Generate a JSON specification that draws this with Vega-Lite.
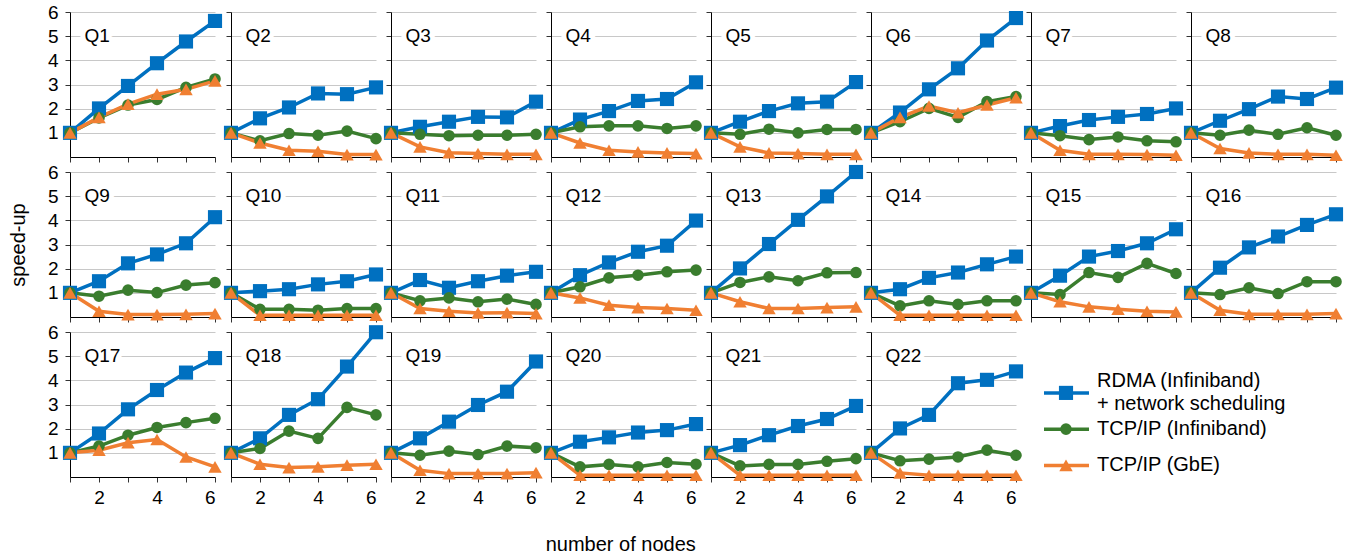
{
"$schema":"https://vega.github.io/schema/vega-lite/v6.json",
"background":"white",
"padding":{"left":8,"top":3,"right":5,"bottom":3},
"config":{"view":{"stroke":null},"font":"Liberation Sans","legend":{"disable":true},
"axis":{"domainColor":"#000","tickColor":"#333","tickSize":5,"labelFontSize":19,"labelColor":"#000","gridColor":"#c8c8c8","titleFontSize":20,"titleFontWeight":"normal","titleColor":"#000","labelPadding":6},
"axisY":{"titlePadding":19,"labelPadding":7}},
"title":{"text":"number of nodes","orient":"bottom","anchor":"middle","fontSize":20,"fontWeight":"normal","offset":28,"dx":-55},
"datasets":{
"leg":[{"s":"RDMA","label":"RDMA (Infiniband)\n+ network scheduling"},{"s":"TCPIB","label":"TCP/IP (Infiniband)"},{"s":"GbE","label":"TCP/IP (GbE)"}],
"d":[
{"q":"Q1","s":"RDMA","n":1,"v":1},{"q":"Q1","s":"RDMA","n":2,"v":2.01},{"q":"Q1","s":"RDMA","n":3,"v":2.94},{"q":"Q1","s":"RDMA","n":4,"v":3.88},{"q":"Q1","s":"RDMA","n":5,"v":4.78},{"q":"Q1","s":"RDMA","n":6,"v":5.63},
{"q":"Q1","s":"TCPIB","n":1,"v":1},{"q":"Q1","s":"TCPIB","n":2,"v":1.62},{"q":"Q1","s":"TCPIB","n":3,"v":2.15},{"q":"Q1","s":"TCPIB","n":4,"v":2.38},{"q":"Q1","s":"TCPIB","n":5,"v":2.88},{"q":"Q1","s":"TCPIB","n":6,"v":3.23},
{"q":"Q1","s":"GbE","n":1,"v":1},{"q":"Q1","s":"GbE","n":2,"v":1.64},{"q":"Q1","s":"GbE","n":3,"v":2.19},{"q":"Q1","s":"GbE","n":4,"v":2.6},{"q":"Q1","s":"GbE","n":5,"v":2.8},{"q":"Q1","s":"GbE","n":6,"v":3.15},
{"q":"Q2","s":"RDMA","n":1,"v":1},{"q":"Q2","s":"RDMA","n":2,"v":1.6},{"q":"Q2","s":"RDMA","n":3,"v":2.05},{"q":"Q2","s":"RDMA","n":4,"v":2.63},{"q":"Q2","s":"RDMA","n":5,"v":2.6},{"q":"Q2","s":"RDMA","n":6,"v":2.88},
{"q":"Q2","s":"TCPIB","n":1,"v":1},{"q":"Q2","s":"TCPIB","n":2,"v":0.67},{"q":"Q2","s":"TCPIB","n":3,"v":0.97},{"q":"Q2","s":"TCPIB","n":4,"v":0.9},{"q":"Q2","s":"TCPIB","n":5,"v":1.07},{"q":"Q2","s":"TCPIB","n":6,"v":0.76},
{"q":"Q2","s":"GbE","n":1,"v":1},{"q":"Q2","s":"GbE","n":2,"v":0.58},{"q":"Q2","s":"GbE","n":3,"v":0.28},{"q":"Q2","s":"GbE","n":4,"v":0.24},{"q":"Q2","s":"GbE","n":5,"v":0.1},{"q":"Q2","s":"GbE","n":6,"v":0.1},
{"q":"Q3","s":"RDMA","n":1,"v":1},{"q":"Q3","s":"RDMA","n":2,"v":1.25},{"q":"Q3","s":"RDMA","n":3,"v":1.46},{"q":"Q3","s":"RDMA","n":4,"v":1.66},{"q":"Q3","s":"RDMA","n":5,"v":1.64},{"q":"Q3","s":"RDMA","n":6,"v":2.29},
{"q":"Q3","s":"TCPIB","n":1,"v":1},{"q":"Q3","s":"TCPIB","n":2,"v":0.94},{"q":"Q3","s":"TCPIB","n":3,"v":0.88},{"q":"Q3","s":"TCPIB","n":4,"v":0.9},{"q":"Q3","s":"TCPIB","n":5,"v":0.9},{"q":"Q3","s":"TCPIB","n":6,"v":0.94},
{"q":"Q3","s":"GbE","n":1,"v":1},{"q":"Q3","s":"GbE","n":2,"v":0.42},{"q":"Q3","s":"GbE","n":3,"v":0.18},{"q":"Q3","s":"GbE","n":4,"v":0.14},{"q":"Q3","s":"GbE","n":5,"v":0.11},{"q":"Q3","s":"GbE","n":6,"v":0.11},
{"q":"Q4","s":"RDMA","n":1,"v":1},{"q":"Q4","s":"RDMA","n":2,"v":1.55},{"q":"Q4","s":"RDMA","n":3,"v":1.9},{"q":"Q4","s":"RDMA","n":4,"v":2.32},{"q":"Q4","s":"RDMA","n":5,"v":2.4},{"q":"Q4","s":"RDMA","n":6,"v":3.09},
{"q":"Q4","s":"TCPIB","n":1,"v":1},{"q":"Q4","s":"TCPIB","n":2,"v":1.25},{"q":"Q4","s":"TCPIB","n":3,"v":1.29},{"q":"Q4","s":"TCPIB","n":4,"v":1.29},{"q":"Q4","s":"TCPIB","n":5,"v":1.18},{"q":"Q4","s":"TCPIB","n":6,"v":1.29},
{"q":"Q4","s":"GbE","n":1,"v":1},{"q":"Q4","s":"GbE","n":2,"v":0.58},{"q":"Q4","s":"GbE","n":3,"v":0.28},{"q":"Q4","s":"GbE","n":4,"v":0.21},{"q":"Q4","s":"GbE","n":5,"v":0.17},{"q":"Q4","s":"GbE","n":6,"v":0.14},
{"q":"Q5","s":"RDMA","n":1,"v":1},{"q":"Q5","s":"RDMA","n":2,"v":1.46},{"q":"Q5","s":"RDMA","n":3,"v":1.9},{"q":"Q5","s":"RDMA","n":4,"v":2.22},{"q":"Q5","s":"RDMA","n":5,"v":2.29},{"q":"Q5","s":"RDMA","n":6,"v":3.1},
{"q":"Q5","s":"TCPIB","n":1,"v":1},{"q":"Q5","s":"TCPIB","n":2,"v":0.94},{"q":"Q5","s":"TCPIB","n":3,"v":1.15},{"q":"Q5","s":"TCPIB","n":4,"v":1.0},{"q":"Q5","s":"TCPIB","n":5,"v":1.14},{"q":"Q5","s":"TCPIB","n":6,"v":1.14},
{"q":"Q5","s":"GbE","n":1,"v":1},{"q":"Q5","s":"GbE","n":2,"v":0.42},{"q":"Q5","s":"GbE","n":3,"v":0.17},{"q":"Q5","s":"GbE","n":4,"v":0.14},{"q":"Q5","s":"GbE","n":5,"v":0.11},{"q":"Q5","s":"GbE","n":6,"v":0.11},
{"q":"Q6","s":"RDMA","n":1,"v":1},{"q":"Q6","s":"RDMA","n":2,"v":1.84},{"q":"Q6","s":"RDMA","n":3,"v":2.8},{"q":"Q6","s":"RDMA","n":4,"v":3.67},{"q":"Q6","s":"RDMA","n":5,"v":4.82},{"q":"Q6","s":"RDMA","n":6,"v":5.75},
{"q":"Q6","s":"TCPIB","n":1,"v":1},{"q":"Q6","s":"TCPIB","n":2,"v":1.46},{"q":"Q6","s":"TCPIB","n":3,"v":2.01},{"q":"Q6","s":"TCPIB","n":4,"v":1.64},{"q":"Q6","s":"TCPIB","n":5,"v":2.29},{"q":"Q6","s":"TCPIB","n":6,"v":2.5},
{"q":"Q6","s":"GbE","n":1,"v":1},{"q":"Q6","s":"GbE","n":2,"v":1.64},{"q":"Q6","s":"GbE","n":3,"v":2.11},{"q":"Q6","s":"GbE","n":4,"v":1.83},{"q":"Q6","s":"GbE","n":5,"v":2.15},{"q":"Q6","s":"GbE","n":6,"v":2.45},
{"q":"Q7","s":"RDMA","n":1,"v":1},{"q":"Q7","s":"RDMA","n":2,"v":1.28},{"q":"Q7","s":"RDMA","n":3,"v":1.53},{"q":"Q7","s":"RDMA","n":4,"v":1.66},{"q":"Q7","s":"RDMA","n":5,"v":1.78},{"q":"Q7","s":"RDMA","n":6,"v":2.01},
{"q":"Q7","s":"TCPIB","n":1,"v":1},{"q":"Q7","s":"TCPIB","n":2,"v":0.88},{"q":"Q7","s":"TCPIB","n":3,"v":0.72},{"q":"Q7","s":"TCPIB","n":4,"v":0.83},{"q":"Q7","s":"TCPIB","n":5,"v":0.67},{"q":"Q7","s":"TCPIB","n":6,"v":0.63},
{"q":"Q7","s":"GbE","n":1,"v":1},{"q":"Q7","s":"GbE","n":2,"v":0.28},{"q":"Q7","s":"GbE","n":3,"v":0.11},{"q":"Q7","s":"GbE","n":4,"v":0.11},{"q":"Q7","s":"GbE","n":5,"v":0.1},{"q":"Q7","s":"GbE","n":6,"v":0.07},
{"q":"Q8","s":"RDMA","n":1,"v":1},{"q":"Q8","s":"RDMA","n":2,"v":1.5},{"q":"Q8","s":"RDMA","n":3,"v":1.98},{"q":"Q8","s":"RDMA","n":4,"v":2.5},{"q":"Q8","s":"RDMA","n":5,"v":2.4},{"q":"Q8","s":"RDMA","n":6,"v":2.87},
{"q":"Q8","s":"TCPIB","n":1,"v":1},{"q":"Q8","s":"TCPIB","n":2,"v":0.9},{"q":"Q8","s":"TCPIB","n":3,"v":1.11},{"q":"Q8","s":"TCPIB","n":4,"v":0.94},{"q":"Q8","s":"TCPIB","n":5,"v":1.21},{"q":"Q8","s":"TCPIB","n":6,"v":0.9},
{"q":"Q8","s":"GbE","n":1,"v":1},{"q":"Q8","s":"GbE","n":2,"v":0.35},{"q":"Q8","s":"GbE","n":3,"v":0.17},{"q":"Q8","s":"GbE","n":4,"v":0.11},{"q":"Q8","s":"GbE","n":5,"v":0.11},{"q":"Q8","s":"GbE","n":6,"v":0.07},
{"q":"Q9","s":"RDMA","n":1,"v":1},{"q":"Q9","s":"RDMA","n":2,"v":1.48},{"q":"Q9","s":"RDMA","n":3,"v":2.22},{"q":"Q9","s":"RDMA","n":4,"v":2.59},{"q":"Q9","s":"RDMA","n":5,"v":3.05},{"q":"Q9","s":"RDMA","n":6,"v":4.13},
{"q":"Q9","s":"TCPIB","n":1,"v":1},{"q":"Q9","s":"TCPIB","n":2,"v":0.86},{"q":"Q9","s":"TCPIB","n":3,"v":1.11},{"q":"Q9","s":"TCPIB","n":4,"v":1.01},{"q":"Q9","s":"TCPIB","n":5,"v":1.32},{"q":"Q9","s":"TCPIB","n":6,"v":1.42},
{"q":"Q9","s":"GbE","n":1,"v":1},{"q":"Q9","s":"GbE","n":2,"v":0.24},{"q":"Q9","s":"GbE","n":3,"v":0.1},{"q":"Q9","s":"GbE","n":4,"v":0.1},{"q":"Q9","s":"GbE","n":5,"v":0.11},{"q":"Q9","s":"GbE","n":6,"v":0.14},
{"q":"Q10","s":"RDMA","n":1,"v":1},{"q":"Q10","s":"RDMA","n":2,"v":1.07},{"q":"Q10","s":"RDMA","n":3,"v":1.15},{"q":"Q10","s":"RDMA","n":4,"v":1.35},{"q":"Q10","s":"RDMA","n":5,"v":1.48},{"q":"Q10","s":"RDMA","n":6,"v":1.76},
{"q":"Q10","s":"TCPIB","n":1,"v":1},{"q":"Q10","s":"TCPIB","n":2,"v":0.32},{"q":"Q10","s":"TCPIB","n":3,"v":0.32},{"q":"Q10","s":"TCPIB","n":4,"v":0.28},{"q":"Q10","s":"TCPIB","n":5,"v":0.35},{"q":"Q10","s":"TCPIB","n":6,"v":0.35},
{"q":"Q10","s":"GbE","n":1,"v":1},{"q":"Q10","s":"GbE","n":2,"v":0.07},{"q":"Q10","s":"GbE","n":3,"v":0.07},{"q":"Q10","s":"GbE","n":4,"v":0.07},{"q":"Q10","s":"GbE","n":5,"v":0.07},{"q":"Q10","s":"GbE","n":6,"v":0.07},
{"q":"Q11","s":"RDMA","n":1,"v":1},{"q":"Q11","s":"RDMA","n":2,"v":1.53},{"q":"Q11","s":"RDMA","n":3,"v":1.21},{"q":"Q11","s":"RDMA","n":4,"v":1.48},{"q":"Q11","s":"RDMA","n":5,"v":1.71},{"q":"Q11","s":"RDMA","n":6,"v":1.87},
{"q":"Q11","s":"TCPIB","n":1,"v":1},{"q":"Q11","s":"TCPIB","n":2,"v":0.67},{"q":"Q11","s":"TCPIB","n":3,"v":0.79},{"q":"Q11","s":"TCPIB","n":4,"v":0.63},{"q":"Q11","s":"TCPIB","n":5,"v":0.74},{"q":"Q11","s":"TCPIB","n":6,"v":0.52},
{"q":"Q11","s":"GbE","n":1,"v":1},{"q":"Q11","s":"GbE","n":2,"v":0.35},{"q":"Q11","s":"GbE","n":3,"v":0.24},{"q":"Q11","s":"GbE","n":4,"v":0.17},{"q":"Q11","s":"GbE","n":5,"v":0.18},{"q":"Q11","s":"GbE","n":6,"v":0.14},
{"q":"Q12","s":"RDMA","n":1,"v":1},{"q":"Q12","s":"RDMA","n":2,"v":1.73},{"q":"Q12","s":"RDMA","n":3,"v":2.26},{"q":"Q12","s":"RDMA","n":4,"v":2.7},{"q":"Q12","s":"RDMA","n":5,"v":2.95},{"q":"Q12","s":"RDMA","n":6,"v":3.99},
{"q":"Q12","s":"TCPIB","n":1,"v":1},{"q":"Q12","s":"TCPIB","n":2,"v":1.25},{"q":"Q12","s":"TCPIB","n":3,"v":1.62},{"q":"Q12","s":"TCPIB","n":4,"v":1.73},{"q":"Q12","s":"TCPIB","n":5,"v":1.87},{"q":"Q12","s":"TCPIB","n":6,"v":1.94},
{"q":"Q12","s":"GbE","n":1,"v":1},{"q":"Q12","s":"GbE","n":2,"v":0.79},{"q":"Q12","s":"GbE","n":3,"v":0.49},{"q":"Q12","s":"GbE","n":4,"v":0.39},{"q":"Q12","s":"GbE","n":5,"v":0.35},{"q":"Q12","s":"GbE","n":6,"v":0.28},
{"q":"Q13","s":"RDMA","n":1,"v":1},{"q":"Q13","s":"RDMA","n":2,"v":2.01},{"q":"Q13","s":"RDMA","n":3,"v":3.02},{"q":"Q13","s":"RDMA","n":4,"v":4.02},{"q":"Q13","s":"RDMA","n":5,"v":4.99},{"q":"Q13","s":"RDMA","n":6,"v":6.0},
{"q":"Q13","s":"TCPIB","n":1,"v":1},{"q":"Q13","s":"TCPIB","n":2,"v":1.43},{"q":"Q13","s":"TCPIB","n":3,"v":1.66},{"q":"Q13","s":"TCPIB","n":4,"v":1.5},{"q":"Q13","s":"TCPIB","n":5,"v":1.83},{"q":"Q13","s":"TCPIB","n":6,"v":1.84},
{"q":"Q13","s":"GbE","n":1,"v":1},{"q":"Q13","s":"GbE","n":2,"v":0.63},{"q":"Q13","s":"GbE","n":3,"v":0.35},{"q":"Q13","s":"GbE","n":4,"v":0.35},{"q":"Q13","s":"GbE","n":5,"v":0.39},{"q":"Q13","s":"GbE","n":6,"v":0.42},
{"q":"Q14","s":"RDMA","n":1,"v":1},{"q":"Q14","s":"RDMA","n":2,"v":1.15},{"q":"Q14","s":"RDMA","n":3,"v":1.62},{"q":"Q14","s":"RDMA","n":4,"v":1.84},{"q":"Q14","s":"RDMA","n":5,"v":2.18},{"q":"Q14","s":"RDMA","n":6,"v":2.5},
{"q":"Q14","s":"TCPIB","n":1,"v":1},{"q":"Q14","s":"TCPIB","n":2,"v":0.46},{"q":"Q14","s":"TCPIB","n":3,"v":0.67},{"q":"Q14","s":"TCPIB","n":4,"v":0.52},{"q":"Q14","s":"TCPIB","n":5,"v":0.67},{"q":"Q14","s":"TCPIB","n":6,"v":0.67},
{"q":"Q14","s":"GbE","n":1,"v":1},{"q":"Q14","s":"GbE","n":2,"v":0.07},{"q":"Q14","s":"GbE","n":3,"v":0.07},{"q":"Q14","s":"GbE","n":4,"v":0.07},{"q":"Q14","s":"GbE","n":5,"v":0.07},{"q":"Q14","s":"GbE","n":6,"v":0.07},
{"q":"Q15","s":"RDMA","n":1,"v":1},{"q":"Q15","s":"RDMA","n":2,"v":1.71},{"q":"Q15","s":"RDMA","n":3,"v":2.5},{"q":"Q15","s":"RDMA","n":4,"v":2.73},{"q":"Q15","s":"RDMA","n":5,"v":3.05},{"q":"Q15","s":"RDMA","n":6,"v":3.63},
{"q":"Q15","s":"TCPIB","n":1,"v":1},{"q":"Q15","s":"TCPIB","n":2,"v":0.93},{"q":"Q15","s":"TCPIB","n":3,"v":1.84},{"q":"Q15","s":"TCPIB","n":4,"v":1.64},{"q":"Q15","s":"TCPIB","n":5,"v":2.22},{"q":"Q15","s":"TCPIB","n":6,"v":1.8},
{"q":"Q15","s":"GbE","n":1,"v":1},{"q":"Q15","s":"GbE","n":2,"v":0.63},{"q":"Q15","s":"GbE","n":3,"v":0.42},{"q":"Q15","s":"GbE","n":4,"v":0.32},{"q":"Q15","s":"GbE","n":5,"v":0.24},{"q":"Q15","s":"GbE","n":6,"v":0.21},
{"q":"Q16","s":"RDMA","n":1,"v":1},{"q":"Q16","s":"RDMA","n":2,"v":2.04},{"q":"Q16","s":"RDMA","n":3,"v":2.88},{"q":"Q16","s":"RDMA","n":4,"v":3.33},{"q":"Q16","s":"RDMA","n":5,"v":3.81},{"q":"Q16","s":"RDMA","n":6,"v":4.25},
{"q":"Q16","s":"TCPIB","n":1,"v":1},{"q":"Q16","s":"TCPIB","n":2,"v":0.93},{"q":"Q16","s":"TCPIB","n":3,"v":1.21},{"q":"Q16","s":"TCPIB","n":4,"v":0.97},{"q":"Q16","s":"TCPIB","n":5,"v":1.46},{"q":"Q16","s":"TCPIB","n":6,"v":1.46},
{"q":"Q16","s":"GbE","n":1,"v":1},{"q":"Q16","s":"GbE","n":2,"v":0.28},{"q":"Q16","s":"GbE","n":3,"v":0.11},{"q":"Q16","s":"GbE","n":4,"v":0.11},{"q":"Q16","s":"GbE","n":5,"v":0.11},{"q":"Q16","s":"GbE","n":6,"v":0.14},
{"q":"Q17","s":"RDMA","n":1,"v":1},{"q":"Q17","s":"RDMA","n":2,"v":1.8},{"q":"Q17","s":"RDMA","n":3,"v":2.8},{"q":"Q17","s":"RDMA","n":4,"v":3.6},{"q":"Q17","s":"RDMA","n":5,"v":4.32},{"q":"Q17","s":"RDMA","n":6,"v":4.92},
{"q":"Q17","s":"TCPIB","n":1,"v":1},{"q":"Q17","s":"TCPIB","n":2,"v":1.28},{"q":"Q17","s":"TCPIB","n":3,"v":1.73},{"q":"Q17","s":"TCPIB","n":4,"v":2.05},{"q":"Q17","s":"TCPIB","n":5,"v":2.25},{"q":"Q17","s":"TCPIB","n":6,"v":2.43},
{"q":"Q17","s":"GbE","n":1,"v":1},{"q":"Q17","s":"GbE","n":2,"v":1.11},{"q":"Q17","s":"GbE","n":3,"v":1.42},{"q":"Q17","s":"GbE","n":4,"v":1.55},{"q":"Q17","s":"GbE","n":5,"v":0.83},{"q":"Q17","s":"GbE","n":6,"v":0.42},
{"q":"Q18","s":"RDMA","n":1,"v":1},{"q":"Q18","s":"RDMA","n":2,"v":1.6},{"q":"Q18","s":"RDMA","n":3,"v":2.57},{"q":"Q18","s":"RDMA","n":4,"v":3.22},{"q":"Q18","s":"RDMA","n":5,"v":4.57},{"q":"Q18","s":"RDMA","n":6,"v":5.99},
{"q":"Q18","s":"TCPIB","n":1,"v":1},{"q":"Q18","s":"TCPIB","n":2,"v":1.18},{"q":"Q18","s":"TCPIB","n":3,"v":1.9},{"q":"Q18","s":"TCPIB","n":4,"v":1.6},{"q":"Q18","s":"TCPIB","n":5,"v":2.88},{"q":"Q18","s":"TCPIB","n":6,"v":2.57},
{"q":"Q18","s":"GbE","n":1,"v":1},{"q":"Q18","s":"GbE","n":2,"v":0.53},{"q":"Q18","s":"GbE","n":3,"v":0.39},{"q":"Q18","s":"GbE","n":4,"v":0.42},{"q":"Q18","s":"GbE","n":5,"v":0.49},{"q":"Q18","s":"GbE","n":6,"v":0.53},
{"q":"Q19","s":"RDMA","n":1,"v":1},{"q":"Q19","s":"RDMA","n":2,"v":1.6},{"q":"Q19","s":"RDMA","n":3,"v":2.29},{"q":"Q19","s":"RDMA","n":4,"v":2.98},{"q":"Q19","s":"RDMA","n":5,"v":3.53},{"q":"Q19","s":"RDMA","n":6,"v":4.78},
{"q":"Q19","s":"TCPIB","n":1,"v":1},{"q":"Q19","s":"TCPIB","n":2,"v":0.9},{"q":"Q19","s":"TCPIB","n":3,"v":1.07},{"q":"Q19","s":"TCPIB","n":4,"v":0.93},{"q":"Q19","s":"TCPIB","n":5,"v":1.28},{"q":"Q19","s":"TCPIB","n":6,"v":1.21},
{"q":"Q19","s":"GbE","n":1,"v":1},{"q":"Q19","s":"GbE","n":2,"v":0.28},{"q":"Q19","s":"GbE","n":3,"v":0.14},{"q":"Q19","s":"GbE","n":4,"v":0.14},{"q":"Q19","s":"GbE","n":5,"v":0.14},{"q":"Q19","s":"GbE","n":6,"v":0.18},
{"q":"Q20","s":"RDMA","n":1,"v":1},{"q":"Q20","s":"RDMA","n":2,"v":1.46},{"q":"Q20","s":"RDMA","n":3,"v":1.64},{"q":"Q20","s":"RDMA","n":4,"v":1.84},{"q":"Q20","s":"RDMA","n":5,"v":1.94},{"q":"Q20","s":"RDMA","n":6,"v":2.19},
{"q":"Q20","s":"TCPIB","n":1,"v":1},{"q":"Q20","s":"TCPIB","n":2,"v":0.42},{"q":"Q20","s":"TCPIB","n":3,"v":0.52},{"q":"Q20","s":"TCPIB","n":4,"v":0.42},{"q":"Q20","s":"TCPIB","n":5,"v":0.6},{"q":"Q20","s":"TCPIB","n":6,"v":0.53},
{"q":"Q20","s":"GbE","n":1,"v":1},{"q":"Q20","s":"GbE","n":2,"v":0.07},{"q":"Q20","s":"GbE","n":3,"v":0.07},{"q":"Q20","s":"GbE","n":4,"v":0.07},{"q":"Q20","s":"GbE","n":5,"v":0.07},{"q":"Q20","s":"GbE","n":6,"v":0.07},
{"q":"Q21","s":"RDMA","n":1,"v":1},{"q":"Q21","s":"RDMA","n":2,"v":1.32},{"q":"Q21","s":"RDMA","n":3,"v":1.73},{"q":"Q21","s":"RDMA","n":4,"v":2.11},{"q":"Q21","s":"RDMA","n":5,"v":2.4},{"q":"Q21","s":"RDMA","n":6,"v":2.94},
{"q":"Q21","s":"TCPIB","n":1,"v":1},{"q":"Q21","s":"TCPIB","n":2,"v":0.46},{"q":"Q21","s":"TCPIB","n":3,"v":0.52},{"q":"Q21","s":"TCPIB","n":4,"v":0.52},{"q":"Q21","s":"TCPIB","n":5,"v":0.65},{"q":"Q21","s":"TCPIB","n":6,"v":0.76},
{"q":"Q21","s":"GbE","n":1,"v":1},{"q":"Q21","s":"GbE","n":2,"v":0.07},{"q":"Q21","s":"GbE","n":3,"v":0.07},{"q":"Q21","s":"GbE","n":4,"v":0.07},{"q":"Q21","s":"GbE","n":5,"v":0.07},{"q":"Q21","s":"GbE","n":6,"v":0.07},
{"q":"Q22","s":"RDMA","n":1,"v":1},{"q":"Q22","s":"RDMA","n":2,"v":2.01},{"q":"Q22","s":"RDMA","n":3,"v":2.57},{"q":"Q22","s":"RDMA","n":4,"v":3.88},{"q":"Q22","s":"RDMA","n":5,"v":4.02},{"q":"Q22","s":"RDMA","n":6,"v":4.37},
{"q":"Q22","s":"TCPIB","n":1,"v":1},{"q":"Q22","s":"TCPIB","n":2,"v":0.67},{"q":"Q22","s":"TCPIB","n":3,"v":0.74},{"q":"Q22","s":"TCPIB","n":4,"v":0.83},{"q":"Q22","s":"TCPIB","n":5,"v":1.11},{"q":"Q22","s":"TCPIB","n":6,"v":0.9},
{"q":"Q22","s":"GbE","n":1,"v":1},{"q":"Q22","s":"GbE","n":2,"v":0.17},{"q":"Q22","s":"GbE","n":3,"v":0.07},{"q":"Q22","s":"GbE","n":4,"v":0.07},{"q":"Q22","s":"GbE","n":5,"v":0.07},{"q":"Q22","s":"GbE","n":6,"v":0.07}
]},
"spacing":0,
"vconcat":[
{"spacing":0,"hconcat":[
{"data":{"name":"d"},"transform":[{"filter":"datum.q == 'Q1'"}],"width":145,"height":145,
"encoding":{"x":{"field":"n","type":"quantitative","scale":{"domain":[1,6],"nice":false,"zero":false},"axis":{"values":[1,2,3,4,5,6],"labels":false,"title":null,"grid":false}},
"y":{"field":"v","type":"quantitative","scale":{"domain":[0,6],"nice":false},"axis":{"values":[1,2,3,4,5,6],"title":null,"grid":true}}},
"layer":[
{"mark":{"type":"line","strokeWidth":3.5},"encoding":{"color":{"field":"s","type":"nominal","scale":{"domain":["RDMA","TCPIB","GbE"],"range":["#0070C0","#3A7D2E","#F07F32"]},"legend":null}}},
{"mark":{"type":"point","filled":true,"opacity":1},"encoding":{"color":{"field":"s","type":"nominal","legend":null},"shape":{"field":"s","type":"nominal","scale":{"domain":["RDMA","TCPIB","GbE"],"range":["square","circle","triangle-up"]},"legend":null},"size":{"condition":[{"test":"datum.s == 'RDMA'","value":200},{"test":"datum.s == 'TCPIB'","value":135}],"value":180}}},
{"transform":[{"filter":"datum.n == 1 && datum.s == 'RDMA'"}],"mark":{"type":"text","align":"left","baseline":"middle","fontSize":19,"fill":"white","stroke":"white","strokeWidth":10,"strokeJoin":"round"},"encoding":{"x":{"datum":1.5},"y":{"datum":5},"text":{"field":"q"}}},
{"transform":[{"filter":"datum.n == 1 && datum.s == 'RDMA'"}],"mark":{"type":"text","align":"left","baseline":"middle","fontSize":19,"fill":"black"},"encoding":{"x":{"datum":1.5},"y":{"datum":5},"text":{"field":"q"}}}
]},
{"data":{"name":"d"},"transform":[{"filter":{"field":"q","oneOf":["Q2","Q3","Q4","Q5","Q6","Q7","Q8"]}}],
"facet":{"column":{"field":"q","type":"nominal","sort":["Q2","Q3","Q4","Q5","Q6","Q7","Q8"],"header":null}},
"spacing":15,"bounds":"flush","resolve":{"axis":{"y":"independent"}},
"spec":{"width":145,"height":145,
"encoding":{"x":{"field":"n","type":"quantitative","scale":{"domain":[1,6],"nice":false,"zero":false},"axis":{"values":[1,2,3,4,5,6],"labels":false,"title":null,"grid":false}},
"y":{"field":"v","type":"quantitative","scale":{"domain":[0,6],"nice":false},"axis":{"values":[1,2,3,4,5,6],"title":null,"labels":false,"grid":true}}},
"layer":[
{"mark":{"type":"line","strokeWidth":3.5},"encoding":{"color":{"field":"s","type":"nominal","legend":null}}},
{"mark":{"type":"point","filled":true,"opacity":1},"encoding":{"color":{"field":"s","type":"nominal","legend":null},"shape":{"field":"s","type":"nominal","legend":null},"size":{"condition":[{"test":"datum.s == 'RDMA'","value":200},{"test":"datum.s == 'TCPIB'","value":135}],"value":180}}},
{"transform":[{"filter":"datum.n == 1 && datum.s == 'RDMA'"}],"mark":{"type":"text","align":"left","baseline":"middle","fontSize":19,"fill":"white","stroke":"white","strokeWidth":10,"strokeJoin":"round"},"encoding":{"x":{"datum":1.5},"y":{"datum":5},"text":{"field":"q"}}},
{"transform":[{"filter":"datum.n == 1 && datum.s == 'RDMA'"}],"mark":{"type":"text","align":"left","baseline":"middle","fontSize":19,"fill":"black"},"encoding":{"x":{"datum":1.5},"y":{"datum":5},"text":{"field":"q"}}}
]}}
]},
{"spacing":0,"hconcat":[
{"data":{"name":"d"},"transform":[{"filter":"datum.q == 'Q9'"}],"width":145,"height":145,
"encoding":{"x":{"field":"n","type":"quantitative","scale":{"domain":[1,6],"nice":false,"zero":false},"axis":{"values":[1,2,3,4,5,6],"labels":false,"title":null,"grid":false}},
"y":{"field":"v","type":"quantitative","scale":{"domain":[0,6],"nice":false},"axis":{"values":[1,2,3,4,5,6],"title":"speed-up","grid":true}}},
"layer":[
{"mark":{"type":"line","strokeWidth":3.5},"encoding":{"color":{"field":"s","type":"nominal","legend":null}}},
{"mark":{"type":"point","filled":true,"opacity":1},"encoding":{"color":{"field":"s","type":"nominal","legend":null},"shape":{"field":"s","type":"nominal","legend":null},"size":{"condition":[{"test":"datum.s == 'RDMA'","value":200},{"test":"datum.s == 'TCPIB'","value":135}],"value":180}}},
{"transform":[{"filter":"datum.n == 1 && datum.s == 'RDMA'"}],"mark":{"type":"text","align":"left","baseline":"middle","fontSize":19,"fill":"white","stroke":"white","strokeWidth":10,"strokeJoin":"round"},"encoding":{"x":{"datum":1.5},"y":{"datum":5},"text":{"field":"q"}}},
{"transform":[{"filter":"datum.n == 1 && datum.s == 'RDMA'"}],"mark":{"type":"text","align":"left","baseline":"middle","fontSize":19,"fill":"black"},"encoding":{"x":{"datum":1.5},"y":{"datum":5},"text":{"field":"q"}}}
]},
{"data":{"name":"d"},"transform":[{"filter":{"field":"q","oneOf":["Q10","Q11","Q12","Q13","Q14","Q15","Q16"]}}],
"facet":{"column":{"field":"q","type":"nominal","sort":["Q10","Q11","Q12","Q13","Q14","Q15","Q16"],"header":null}},
"spacing":15,"bounds":"flush","resolve":{"axis":{"y":"independent"}},
"spec":{"width":145,"height":145,
"encoding":{"x":{"field":"n","type":"quantitative","scale":{"domain":[1,6],"nice":false,"zero":false},"axis":{"values":[1,2,3,4,5,6],"labels":false,"title":null,"grid":false}},
"y":{"field":"v","type":"quantitative","scale":{"domain":[0,6],"nice":false},"axis":{"values":[1,2,3,4,5,6],"title":null,"labels":false,"grid":true}}},
"layer":[
{"mark":{"type":"line","strokeWidth":3.5},"encoding":{"color":{"field":"s","type":"nominal","legend":null}}},
{"mark":{"type":"point","filled":true,"opacity":1},"encoding":{"color":{"field":"s","type":"nominal","legend":null},"shape":{"field":"s","type":"nominal","legend":null},"size":{"condition":[{"test":"datum.s == 'RDMA'","value":200},{"test":"datum.s == 'TCPIB'","value":135}],"value":180}}},
{"transform":[{"filter":"datum.n == 1 && datum.s == 'RDMA'"}],"mark":{"type":"text","align":"left","baseline":"middle","fontSize":19,"fill":"white","stroke":"white","strokeWidth":10,"strokeJoin":"round"},"encoding":{"x":{"datum":1.5},"y":{"datum":5},"text":{"field":"q"}}},
{"transform":[{"filter":"datum.n == 1 && datum.s == 'RDMA'"}],"mark":{"type":"text","align":"left","baseline":"middle","fontSize":19,"fill":"black"},"encoding":{"x":{"datum":1.5},"y":{"datum":5},"text":{"field":"q"}}}
]}}
]},
{"spacing":0,"hconcat":[
{"data":{"name":"d"},"transform":[{"filter":"datum.q == 'Q17'"}],"width":145,"height":145,
"encoding":{"x":{"field":"n","type":"quantitative","scale":{"domain":[1,6],"nice":false,"zero":false},"axis":{"values":[1,2,3,4,5,6],"labelExpr":"datum.value % 2 == 0 ? datum.label : ''","title":null,"grid":false}},
"y":{"field":"v","type":"quantitative","scale":{"domain":[0,6],"nice":false},"axis":{"values":[1,2,3,4,5,6],"title":null,"grid":true}}},
"layer":[
{"mark":{"type":"line","strokeWidth":3.5},"encoding":{"color":{"field":"s","type":"nominal","legend":null}}},
{"mark":{"type":"point","filled":true,"opacity":1},"encoding":{"color":{"field":"s","type":"nominal","legend":null},"shape":{"field":"s","type":"nominal","legend":null},"size":{"condition":[{"test":"datum.s == 'RDMA'","value":200},{"test":"datum.s == 'TCPIB'","value":135}],"value":180}}},
{"transform":[{"filter":"datum.n == 1 && datum.s == 'RDMA'"}],"mark":{"type":"text","align":"left","baseline":"middle","fontSize":19,"fill":"white","stroke":"white","strokeWidth":10,"strokeJoin":"round"},"encoding":{"x":{"datum":1.5},"y":{"datum":5},"text":{"field":"q"}}},
{"transform":[{"filter":"datum.n == 1 && datum.s == 'RDMA'"}],"mark":{"type":"text","align":"left","baseline":"middle","fontSize":19,"fill":"black"},"encoding":{"x":{"datum":1.5},"y":{"datum":5},"text":{"field":"q"}}}
]},
{"data":{"name":"d"},"transform":[{"filter":{"field":"q","oneOf":["Q18","Q19","Q20","Q21","Q22"]}}],
"facet":{"column":{"field":"q","type":"nominal","sort":["Q18","Q19","Q20","Q21","Q22"],"header":null}},
"spacing":15,"bounds":"flush","resolve":{"axis":{"y":"independent"}},
"spec":{"width":145,"height":145,
"encoding":{"x":{"field":"n","type":"quantitative","scale":{"domain":[1,6],"nice":false,"zero":false},"axis":{"values":[1,2,3,4,5,6],"labelExpr":"datum.value % 2 == 0 ? datum.label : ''","title":null,"grid":false}},
"y":{"field":"v","type":"quantitative","scale":{"domain":[0,6],"nice":false},"axis":{"values":[1,2,3,4,5,6],"title":null,"labels":false,"grid":true}}},
"layer":[
{"mark":{"type":"line","strokeWidth":3.5},"encoding":{"color":{"field":"s","type":"nominal","legend":null}}},
{"mark":{"type":"point","filled":true,"opacity":1},"encoding":{"color":{"field":"s","type":"nominal","legend":null},"shape":{"field":"s","type":"nominal","legend":null},"size":{"condition":[{"test":"datum.s == 'RDMA'","value":200},{"test":"datum.s == 'TCPIB'","value":135}],"value":180}}},
{"transform":[{"filter":"datum.n == 1 && datum.s == 'RDMA'"}],"mark":{"type":"text","align":"left","baseline":"middle","fontSize":19,"fill":"white","stroke":"white","strokeWidth":10,"strokeJoin":"round"},"encoding":{"x":{"datum":1.5},"y":{"datum":5},"text":{"field":"q"}}},
{"transform":[{"filter":"datum.n == 1 && datum.s == 'RDMA'"}],"mark":{"type":"text","align":"left","baseline":"middle","fontSize":19,"fill":"black"},"encoding":{"x":{"datum":1.5},"y":{"datum":5},"text":{"field":"q"}}}
]}},
{"data":{"name":"leg"},"width":300,"height":145,
"encoding":{"y":{"field":"s","type":"nominal","scale":{"type":"point","domain":["RDMA","TCPIB","GbE"],"padding":1.07,"align":0.84},"axis":null}},
"layer":[
{"mark":{"type":"rule","strokeWidth":3.5},"encoding":{"x":{"datum":20,"type":"quantitative","scale":{"domain":[0,300]},"axis":null},"x2":{"datum":65},"color":{"field":"s","type":"nominal","legend":null}}},
{"mark":{"type":"point","filled":true,"opacity":1},"encoding":{"x":{"datum":42,"type":"quantitative"},"color":{"field":"s","type":"nominal","legend":null},"shape":{"field":"s","type":"nominal","legend":null},"size":{"condition":[{"test":"datum.s == 'RDMA'","value":200},{"test":"datum.s == 'TCPIB'","value":135}],"value":180}}},
{"transform":[{"filter":"datum.s != 'RDMA'"}],"mark":{"type":"text","align":"left","baseline":"middle","fontSize":20,"fill":"black"},"encoding":{"x":{"datum":73,"type":"quantitative"},"text":{"field":"label"}}},
{"transform":[{"filter":"datum.s == 'RDMA'"}],"mark":{"type":"text","align":"left","baseline":"middle","fontSize":20,"lineBreak":"\n","lineHeight":23,"dy":-11.5,"fill":"black"},"encoding":{"x":{"datum":73,"type":"quantitative"},"text":{"field":"label"}}}
]}
]}
]}
